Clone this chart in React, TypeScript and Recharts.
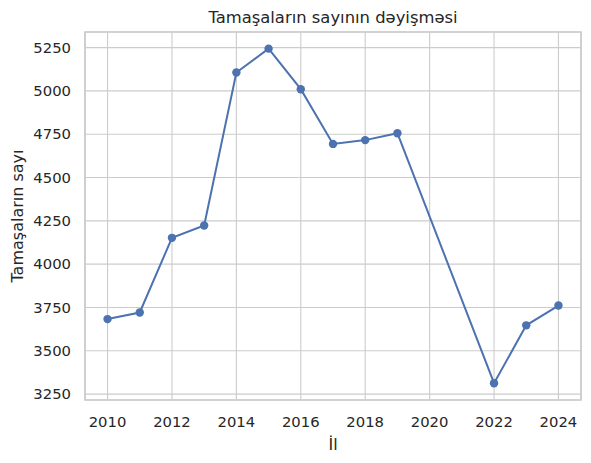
import React from 'react'
import { CartesianGrid, Line, LineChart, ReferenceArea, XAxis, YAxis } from 'recharts'

// Tamaşaların sayı, illər üzrə (2020 və 2021 yoxdur)
const years = [2010, 2011, 2012, 2013, 2014, 2015, 2016, 2017, 2018, 2019, 2022, 2023, 2024]
const shows = [3683, 3721, 4152, 4223, 5106, 5244, 5010, 4694, 4716, 4756, 3313, 3647, 3761]

const xTicks = [2010, 2012, 2014, 2016, 2018, 2020, 2022, 2024]
const yTicks = [3250, 3500, 3750, 4000, 4250, 4500, 4750, 5000, 5250]

const data = years.map((year, i) => ({ year, count: shows[i] }))

const FONT = 'DejaVu Sans, sans-serif'
const INK = '#262626'
const GRID = '#cccccc'
const BLUE = '#4c72b0'

const X_DOMAIN: [number, number] = [2009.3, 2024.7]
const Y_DOMAIN: [number, number] = [3216, 5340]

const App = () => {
  return (
    <div style={{ position: 'absolute', left: 0, top: 0, width: 591, height: 463, background: '#fff' }}>
      <div
        style={{
          position: 'absolute',
          left: 85,
          width: 496,
          top: 8,
          textAlign: 'center',
          fontFamily: FONT,
          fontSize: 16.4,
          color: INK,
          lineHeight: '20px',
        }}
      >
        Tamaşaların sayının dəyişməsi
      </div>
      <LineChart width={591} height={463} data={data} margin={{ top: 32, right: 10, bottom: 0, left: 0 }}>
        <CartesianGrid stroke={GRID} strokeWidth={1.1} />
        <XAxis
          dataKey='year'
          type='number'
          domain={X_DOMAIN}
          ticks={xTicks}
          allowDataOverflow
          height={63}
          axisLine={false}
          tickLine={false}
          tickSize={0}
          tickMargin={16}
          tick={{ fill: INK, fontSize: 14.8, fontFamily: FONT }}
          label={{ value: 'İl', position: 'insideBottom', offset: 13, fill: INK, fontSize: 16, fontFamily: FONT }}
        />
        <YAxis
          type='number'
          domain={Y_DOMAIN}
          ticks={yTicks}
          allowDataOverflow
          width={85}
          axisLine={false}
          tickLine={false}
          tickSize={0}
          tickMargin={14}
          tick={{ fill: INK, fontSize: 14.8, fontFamily: FONT }}
          label={{
            content: (props: any) => {
              const vb = props.viewBox
              const cx = vb.x + 17.5
              const cy = vb.y + vb.height / 2
              return (
                <text
                  x={cx}
                  y={cy}
                  transform={`rotate(-90 ${cx} ${cy})`}
                  textAnchor='middle'
                  dominantBaseline='central'
                  fill={INK}
                  fontSize={16}
                  fontFamily={FONT}
                >
                  Tamaşaların sayı
                </text>
              )
            },
          }}
        />
        <Line
          dataKey='count'
          stroke={BLUE}
          strokeWidth={2}
          dot={{ r: 4.2, fill: BLUE, stroke: BLUE, strokeWidth: 0 }}
          activeDot={false}
          isAnimationActive={false}
        />
        <ReferenceArea
          x1={X_DOMAIN[0]}
          x2={X_DOMAIN[1]}
          y1={Y_DOMAIN[0]}
          y2={Y_DOMAIN[1]}
          fill='none'
          stroke={GRID}
          strokeWidth={1.7}
          ifOverflow='visible'
        />
      </LineChart>
    </div>
  )
}

export default App
